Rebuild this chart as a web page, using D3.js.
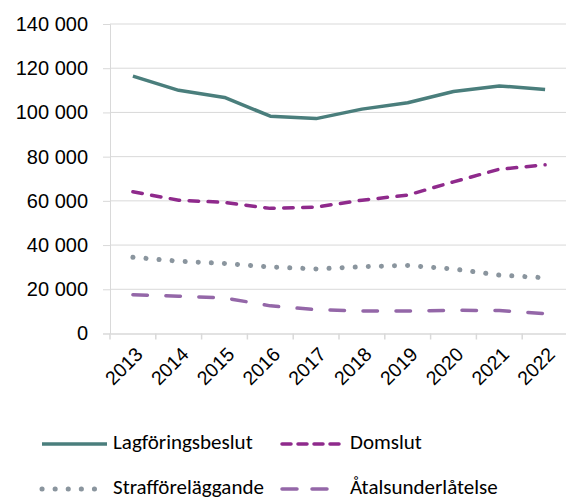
<!DOCTYPE html>
<html><head><meta charset="utf-8">
<script src="https://cdn.jsdelivr.net/npm/d3@7"></script>
<style>body{margin:0;background:#fff}svg{display:block;font-family:Carlito,Calibri,Lato,"Open Sans",sans-serif}</style>
</head><body>
<svg id="c" width="566" height="500"></svg>
<script>
const years = ["2013","2014","2015","2016","2017","2018","2019","2020","2021","2022"];
const lagforingsbeslut = [116400,110000,106800,98300,97200,101500,104400,109500,112000,110400];
const domslut = [64100,60300,59300,56600,57200,60300,62600,68600,74300,76300];
const strafforelaggande = [34500,32700,31700,30100,29200,30200,30800,29200,26400,25200];
const atalsunderlatelse = [17500,16900,16100,12500,10800,10200,10200,10500,10400,9000];
const yTicks = [0,20000,40000,60000,80000,100000,120000,140000];
const seriesNames = ["Lagföringsbeslut","Domslut","Strafföreläggande","Åtalsunderlåtelse"];

const svg = d3.select("#c");
const x = d3.scaleBand().domain(years).range([110, 568]);
const y = d3.scaleLinear().domain([0,140000]).range([333.5, 24]);
const fmt = v => d3.format(",")(v).replace(/,/g, " ");

svg.append("g").selectAll("line").data(yTicks.slice(1)).join("line")
  .attr("x1",110).attr("x2",566).attr("y1",d=>y(d)).attr("y2",d=>y(d))
  .attr("stroke","#d9d9d9").attr("stroke-width",1);

const ya = svg.append("g").attr("transform","translate(110,0)")
  .call(d3.axisLeft(y).tickValues(yTicks).tickFormat(fmt).tickSize(7).tickPadding(15));
ya.select(".domain").attr("stroke","#d9d9d9");
ya.selectAll(".tick line").attr("stroke","#d9d9d9");
ya.selectAll("text").attr("font-size",20).attr("fill","#000");

const xa = svg.append("g").attr("transform",`translate(0,${y(0)})`)
  .call(d3.axisBottom(x).tickSize(0).tickSizeOuter(0));
xa.select(".domain").attr("stroke","#d9d9d9").attr("stroke-width",1.5);
xa.selectAll(".tick text").attr("font-size",19.5).attr("fill","#000")
  .attr("text-anchor","end").attr("dy",0)
  .attr("transform","translate(9,20) rotate(-45)");
const bounds = years.map(d=>x(d)).concat([x(years[years.length-1])+x.bandwidth()]);
svg.append("g").selectAll("line").data(bounds).join("line")
  .attr("x1",d=>d).attr("x2",d=>d).attr("y1",y(0)).attr("y2",y(0)+6)
  .attr("stroke","#d9d9d9").attr("stroke-width",1.5);

const styles = [
  {data:lagforingsbeslut, color:"#4a7e7c", dash:null, cap:"butt"},
  {data:domslut, color:"#8f2a8c", dash:"9.5,9.5", cap:"round"},
  {data:strafforelaggande, color:"#8a959e", dash:"0.1,13", cap:"round", w:5},
  {data:atalsunderlatelse, color:"#9467a8", dash:"14.5,18.5", cap:"round"}
];
const line = d3.line().x((d,i)=>x(years[i])+x.bandwidth()/2).y(d=>y(d));
styles.forEach(s=>{
  svg.append("path").datum(s.data).attr("d",line).attr("fill","none")
    .attr("stroke",s.color).attr("stroke-width",s.w||3.5)
    .attr("stroke-linecap",s.cap).attr("stroke-linejoin","round")
    .attr("stroke-dasharray",s.dash);
});

const leg = [
  {x1:42,x2:107,tx:113,ty:444},
  {x1:282,x2:345,tx:350,ty:444},
  {x1:42,x2:96,tx:113,ty:489},
  {x1:282,x2:327,tx:350,ty:489}
];
const legDash = [null,"9,7","0.1,13","15,15"];
leg.forEach((l,i)=>{
  const s = styles[i];
  svg.append("line").attr("x1",l.x1).attr("x2",l.x2).attr("y1",l.ty).attr("y2",l.ty)
    .attr("stroke",s.color).attr("stroke-width",s.w||3.5)
    .attr("stroke-linecap",s.cap).attr("stroke-dasharray",legDash[i]);
  svg.append("text").attr("x",l.tx).attr("y",l.ty+5)
    .attr("font-size",21).attr("fill","#000").text(seriesNames[i]);
});
</script>
</body></html>
